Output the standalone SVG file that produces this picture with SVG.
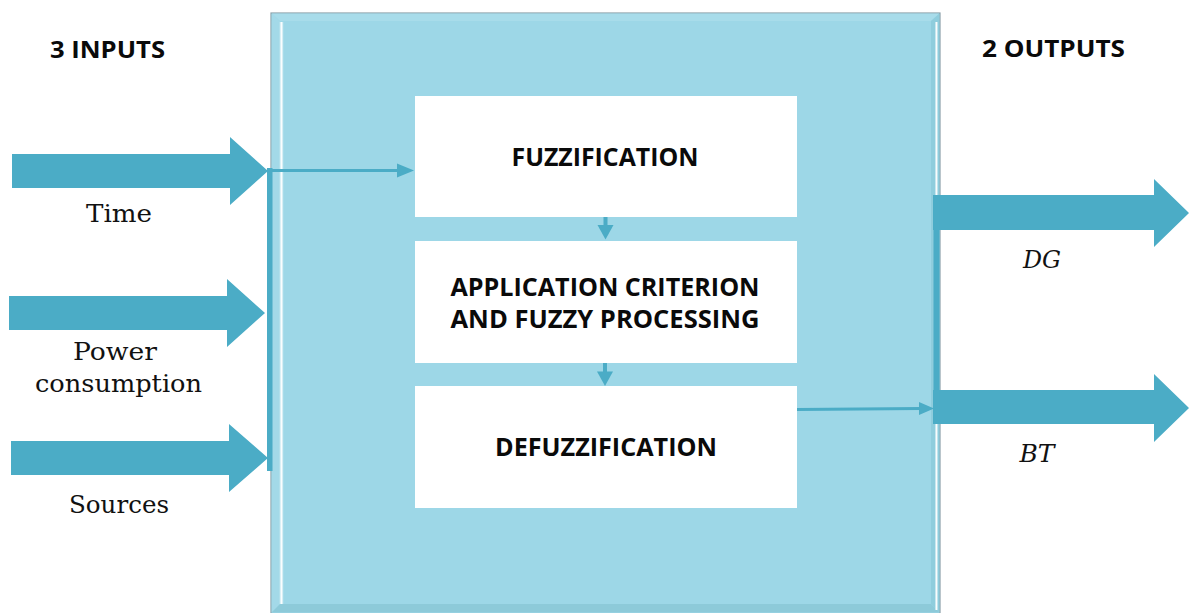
<svg xmlns="http://www.w3.org/2000/svg" width="1189" height="613" viewBox="0 0 1189 613">
  <defs>
    <style>
      .flow { fill: #4BACC6; }
      .wire { stroke: #4BACC6; stroke-width: 3; fill: none; }
      .stage { fill: #FFFFFF; }
      .head { font-family: "Open Sans", "Liberation Sans", sans-serif; font-weight: 700; fill: #0A0A0A; }
      .label { font-family: "DejaVu Serif", "Liberation Serif", serif; fill: #111111; }
      .math { font-family: "DejaVu Serif", "Liberation Serif", serif; font-style: italic; fill: #111111; }
    </style>
    <linearGradient id="shineLeft" x1="0" y1="0" x2="1" y2="0">
      <stop offset="0" stop-color="#FFFFFF" stop-opacity="0.3"/>
      <stop offset="0.5" stop-color="#FFFFFF" stop-opacity="0.95"/>
      <stop offset="1" stop-color="#FFFFFF" stop-opacity="0.2"/>
    </linearGradient>
  </defs>

  <rect width="1189" height="613" fill="#FFFFFF"/>

  <!-- Controller frame with bevelled edges -->
  <g id="controller">
    <rect x="271" y="13" width="669" height="602" fill="#9DD7E7" stroke="#8A9FA8" stroke-width="1.2"/>
    <polygon points="271.6,13.6 939.4,13.6 931,21 280,21" fill="#A8DCEA"/>
    <polygon points="271.6,13.6 280,21 280,604 271.6,612.4" fill="#A3D9E8"/>
    <polygon points="939.4,13.6 939.4,612.4 931,604 931,21" fill="#8FCDDD"/>
    <polygon points="271.6,612.4 939.4,612.4 931,604 280,604" fill="#8DCAD9"/>
    <rect x="279.5" y="22" width="4" height="582" fill="url(#shineLeft)"/>
    <rect x="935" y="22" width="3" height="588" fill="url(#shineLeft)"/>
  </g>

  <!-- Processing stages -->
  <g id="fuzzification">
    <rect class="stage" x="415" y="96" width="382" height="121"/>
    <text class="head" x="605" y="166" font-size="24.5" text-anchor="middle" textLength="187" lengthAdjust="spacingAndGlyphs">FUZZIFICATION</text>
  </g>
  <g id="processing">
    <rect class="stage" x="415" y="241" width="382" height="122"/>
    <text class="head" x="605" y="296" font-size="24.5" text-anchor="middle" textLength="309" lengthAdjust="spacingAndGlyphs">APPLICATION CRITERION</text>
    <text class="head" x="605" y="328" font-size="24.5" text-anchor="middle" textLength="309" lengthAdjust="spacingAndGlyphs">AND FUZZY PROCESSING</text>
  </g>
  <g id="defuzzification">
    <rect class="stage" x="415" y="386" width="382" height="122"/>
    <text class="head" x="606" y="456" font-size="24.5" text-anchor="middle" textLength="222" lengthAdjust="spacingAndGlyphs">DEFUZZIFICATION</text>
  </g>

  <!-- Inputs -->
  <g id="input-time">
    <polygon class="flow" points="12,154 230,154 230,137 268,171 230,205 230,188 12,188"/>
    <text class="label" x="119" y="222" font-size="24" text-anchor="middle" textLength="66" lengthAdjust="spacingAndGlyphs">Time</text>
  </g>
  <g id="input-power">
    <polygon class="flow" points="9,296 227,296 227,279 265,313 227,347 227,330 9,330"/>
    <text class="label" x="115" y="360" font-size="24" text-anchor="middle" textLength="84" lengthAdjust="spacingAndGlyphs">Power</text>
    <text class="label" x="118.5" y="392" font-size="24" text-anchor="middle" textLength="167" lengthAdjust="spacingAndGlyphs">consumption</text>
  </g>
  <g id="input-sources">
    <polygon class="flow" points="11,441 229,441 229,424 268,458 229,492 229,475 11,475"/>
    <text class="label" x="119" y="513" font-size="24" text-anchor="middle" textLength="100" lengthAdjust="spacingAndGlyphs">Sources</text>
  </g>

  <!-- Outputs -->
  <g id="output-dg">
    <polygon class="flow" points="933,195 1154,195 1154,179 1189,213 1154,247 1154,230 933,230"/>
    <text class="math" x="1042" y="268" font-size="24" text-anchor="middle" textLength="38" lengthAdjust="spacingAndGlyphs">DG</text>
  </g>
  <g id="output-bt">
    <polygon class="flow" points="933,390 1154,390 1154,374 1189,408 1154,442 1154,424 933,424"/>
    <text class="math" x="1037" y="462" font-size="24" text-anchor="middle" textLength="35" lengthAdjust="spacingAndGlyphs">BT</text>
  </g>

  <!-- Headings -->
  <g id="headings">
    <text class="head" x="50" y="58" font-size="24" textLength="115" lengthAdjust="spacingAndGlyphs">3 INPUTS</text>
    <text class="head" x="982" y="57" font-size="23" textLength="143" lengthAdjust="spacingAndGlyphs">2 OUTPUTS</text>
  </g>

  <!-- Connectors -->
  <g id="connectors">
    <!-- input collector bus -->
    <rect class="flow" x="267" y="168" width="5.5" height="303"/>
    <!-- output distribution bus -->
    <rect class="flow" x="933.5" y="195" width="6" height="229"/>
    <!-- bus to fuzzification -->
    <line class="wire" x1="268" y1="170.5" x2="399" y2="170.5"/>
    <polygon class="flow" points="397,163.5 414,170.5 397,177.5"/>
    <!-- fuzzification to processing -->
    <rect class="flow" x="603.5" y="217" width="4" height="9"/>
    <polygon class="flow" points="597.5,225 613.5,225 605.5,239.5"/>
    <!-- processing to defuzzification -->
    <rect class="flow" x="603" y="363" width="4" height="9"/>
    <polygon class="flow" points="597,371.5 613,371.5 605,386"/>
    <!-- defuzzification to output bus -->
    <line class="wire" x1="797" y1="409.5" x2="921" y2="408.5"/>
    <polygon class="flow" points="919,402 934,408.5 919,415"/>
  </g>
</svg>
